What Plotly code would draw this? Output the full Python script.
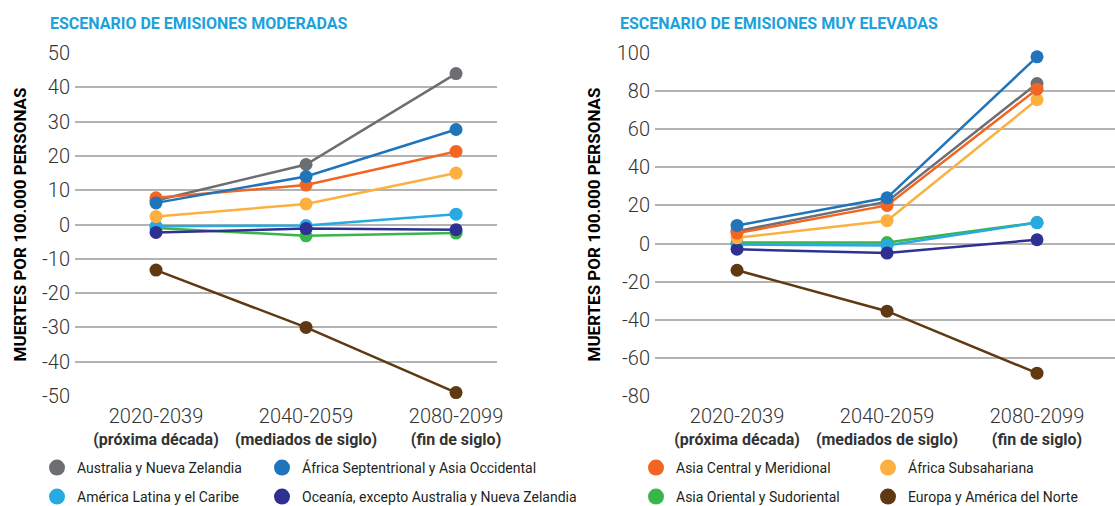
import plotly.graph_objects as go

periods = ["2020-2039", "2040-2059", "2080-2099"]
period_notes = ["(próxima década)", "(mediados de siglo)", "(fin de siglo)"]

left_ticks = [50, 40, 30, 20, 10, 0, -10, -20, -30, -40, -50]
right_ticks = [100, 80, 60, 40, 20, 0, -20, -40, -60, -80]

regions = [
    "Australia y Nueva Zelandia",
    "África Septentrional y Asia Occidental",
    "Asia Central y Meridional",
    "África Subsahariana",
    "América Latina y el Caribe",
    "Oceanía, excepto Australia y Nueva Zelandia",
    "Asia Oriental y Sudoriental",
    "Europa y América del Norte",
]

moderate = {
    "Australia y Nueva Zelandia": [7.0, 17.5, 44.0],
    "África Septentrional y Asia Occidental": [6.3, 14.0, 27.7],
    "Asia Central y Meridional": [7.8, 11.5, 21.3],
    "África Subsahariana": [2.3, 6.0, 15.0],
    "América Latina y el Caribe": [-0.5, -0.3, 3.0],
    "Oceanía, excepto Australia y Nueva Zelandia": [-2.3, -1.2, -1.5],
    "Asia Oriental y Sudoriental": [-1.0, -3.3, -2.5],
    "Europa y América del Norte": [-13.3, -30.0, -49.0],
}

very_high = {
    "Australia y Nueva Zelandia": [6.5, 22.0, 84.0],
    "África Septentrional y Asia Occidental": [9.5, 24.0, 98.0],
    "Asia Central y Meridional": [5.5, 20.0, 81.0],
    "África Subsahariana": [3.0, 12.0, 75.5],
    "América Latina y el Caribe": [-0.5, -1.0, 11.0],
    "Oceanía, excepto Australia y Nueva Zelandia": [-3.0, -5.0, 2.0],
    "Asia Oriental y Sudoriental": [0.5, 0.5, 11.0],
    "Europa y América del Norte": [-14.0, -35.5, -68.0],
}

colors = {
    "Australia y Nueva Zelandia": "#6d6e71",
    "África Septentrional y Asia Occidental": "#1f74bb",
    "Asia Central y Meridional": "#f26522",
    "África Subsahariana": "#fbb040",
    "América Latina y el Caribe": "#27aae1",
    "Oceanía, excepto Australia y Nueva Zelandia": "#2e3192",
    "Asia Oriental y Sudoriental": "#39b54a",
    "Europa y América del Norte": "#603913",
}

draw_order = [
    "Europa y América del Norte",
    "Asia Oriental y Sudoriental",
    "América Latina y el Caribe",
    "Oceanía, excepto Australia y Nueva Zelandia",
    "África Subsahariana",
    "Australia y Nueva Zelandia",
    "Asia Central y Meridional",
    "África Septentrional y Asia Occidental",
]

W, H = 1115, 506
FONT = "Roboto"

fig = go.Figure()

for name in draw_order:
    for data, xa, ya in [(moderate, "x", "y"), (very_high, "x2", "y2")]:
        fig.add_trace(go.Scatter(
            x=periods, y=data[name], xaxis=xa, yaxis=ya,
            mode="lines+markers", name=name, showlegend=False,
            line=dict(color=colors[name], width=2.5),
            marker=dict(color=colors[name], size=13),
            cliponaxis=False, hoverinfo="skip",
        ))

# legend entries (markers only)
legend_pos = [
    (57, 468), (282, 468), (656, 468), (888, 468),
    (57, 497), (282, 497), (656, 497), (888, 497),
]
layout_legends = {}
for i, name in enumerate(regions):
    key = "legend" if i == 0 else f"legend{i+1}"
    fig.add_trace(go.Scatter(
        x=[None], y=[None], mode="markers", name=name,
        marker=dict(color=colors[name], size=20),
        showlegend=True, legend=key,
    ))
    px, py = legend_pos[i]
    layout_legends[key] = dict(
        x=(px - 20) / W, y=1 - py / H, xanchor="left", yanchor="middle",
        bgcolor="rgba(0,0,0,0)", font=dict(family=FONT, size=14, color="#231f20"),
        itemclick=False, itemdoubleclick=False, itemwidth=30,
    )

ticktext = [
    f"<span style='font-size:20px'>{p}</span><br><b><span style='font-size:16px'>{n}</span></b>"
    for p, n in zip(periods, period_notes)
]

ydom = [1 - 396 / H, 1 - 53 / H]
axis_y_common = dict(
    showgrid=True, gridcolor="#b3b3b3", gridwidth=1.5, zeroline=False,
    showline=False, ticks="", automargin=False, ticklabelstandoff=4,
    tickmode="array",
    tickfont=dict(family=FONT, size=20, color="#333333", weight=300),
    title=dict(text="<b>MUERTES POR 100.000 PERSONAS</b>",
               font=dict(family=FONT, size=17, color="#000000"), standoff=11),
)
axis_x_common = dict(
    type="category", showgrid=False, zeroline=False, showline=False, ticks="",
    tickmode="array", tickvals=periods, ticktext=ticktext, automargin=False,
    ticklabelstandoff=9,
    tickfont=dict(family=FONT, size=17, color="#333333", weight=300),
)

fig.update_layout(
    width=W, height=H,
    margin=dict(l=0, r=0, t=0, b=0, autoexpand=False),
    paper_bgcolor="white", plot_bgcolor="white",
    xaxis=dict(domain=[75 / W, 497 / W], range=[-0.54, 2.273], anchor="y", **axis_x_common),
    yaxis=dict(domain=ydom, range=[-50, 50], anchor="x",
               tickvals=left_ticks, ticktext=[str(t) for t in left_ticks], **axis_y_common),
    xaxis2=dict(domain=[655 / W, 1.0], range=[-0.547, 2.52], anchor="y2", **axis_x_common),
    yaxis2=dict(domain=ydom, range=[-80, 100], anchor="x2",
                tickvals=right_ticks, ticktext=[str(t) for t in right_ticks], **axis_y_common),
    annotations=[
        dict(text="<b>ESCENARIO DE EMISIONES MODERADAS</b>", x=48 / W, y=1 - 24 / H,
             xref="paper", yref="paper", xanchor="left", yanchor="middle", showarrow=False,
             font=dict(family=FONT, size=16, color="#1ba1dc")),
        dict(text="<b>ESCENARIO DE EMISIONES MUY ELEVADAS</b>", x=618 / W, y=1 - 24 / H,
             xref="paper", yref="paper", xanchor="left", yanchor="middle", showarrow=False,
             font=dict(family=FONT, size=16, color="#1ba1dc")),
    ],
    **layout_legends,
)

fig.write_html(
    "out.html",
    config={"displayModeBar": False},
    post_script="document.body.style.margin='0';document.body.style.overflow='hidden';",
)
